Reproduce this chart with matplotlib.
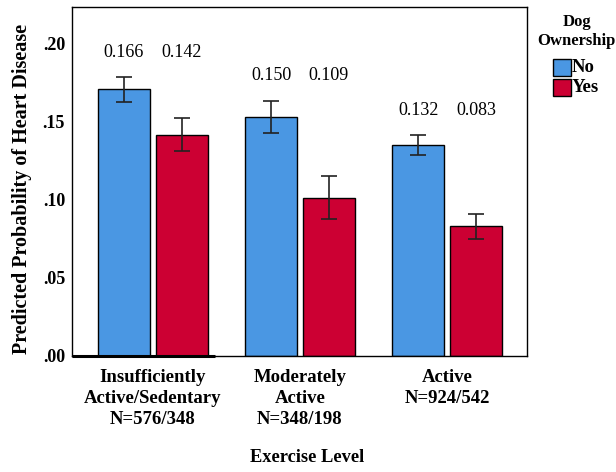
import matplotlib
matplotlib.use("Agg")
import matplotlib.pyplot as plt
from matplotlib.patches import Rectangle
import numpy as np

plt.rcParams['font.family'] = ['Liberation Serif', 'DejaVu Serif']

categories = ["Insufficiently\nActive/Sedentary\nN=576/348",
              "Moderately\nActive\nN=348/198",
              "Active\nN=924/542"]
series_names = ["No", "Yes"]
no_vals = [0.171, 0.153, 0.135]
yes_vals = [0.1417, 0.1015, 0.0831]
no_err_low = [0.1626, 0.1429, 0.1286]
no_err_high = [0.1790, 0.1637, 0.1414]
yes_err_low = [0.1314, 0.0876, 0.0752]
yes_err_high = [0.1523, 0.1151, 0.0908]
no_labels = ["0.166", "0.150", "0.132"]
yes_labels = ["0.142", "0.109", "0.083"]
yticks = [0.0, 0.05, 0.10, 0.15, 0.20]
ytick_labels = [".00", ".05", ".10", ".15", ".20"]

blue = '#4A97E3'
red = '#CC0033'

fig = plt.figure(figsize=(6.16, 4.72), dpi=100)
ax = fig.add_axes([72/616, 1-356/472, (527-72)/616, (356-7)/472])

x = np.arange(len(categories))
w = 0.354
off = 0.197

for vals, lo, hi, col, sgn in [(no_vals, no_err_low, no_err_high, blue, -1),
                               (yes_vals, yes_err_low, yes_err_high, red, 1)]:
    xs = x + sgn*off
    ax.bar(xs, vals, width=w, color=col, edgecolor='black', linewidth=1.0, zorder=2)
    vals_a = np.array(vals)
    yerr = [vals_a - np.array(lo), np.array(hi) - vals_a]
    ax.errorbar(xs, vals, yerr=yerr, fmt='none', ecolor='#222222',
                elinewidth=1.2, capsize=6, capthick=1.2, zorder=3)

# value labels
for i in range(len(categories)):
    top = max(no_err_high[i], yes_err_high[i])
    ly = top + 0.0158
    ax.text(x[i]-off, ly, no_labels[i], ha='center', va='center', fontsize=13)
    ax.text(x[i]+off, ly, yes_labels[i], ha='center', va='center', fontsize=13)

ax.set_xlim(-0.551, 2.544)
ax.set_ylim(0, 0.2237)
ax.set_yticks(yticks)
ax.set_yticklabels(ytick_labels, fontsize=13, fontweight='bold')
ax.set_xticks(x)
ax.set_xticklabels(categories, fontsize=13.5, fontweight='bold', linespacing=1.32)
ax.tick_params(axis='x', length=0, pad=9)
ax.tick_params(axis='y', length=0, pad=5)
for s in ax.spines.values():
    s.set_linewidth(1.0)
    s.set_color('black')

# thicker bottom segment
ax.plot([0, (215-72)/455], [0, 0], transform=ax.transAxes, color='black',
        linewidth=2.2, clip_on=False, zorder=5, solid_capstyle='butt')

fig.text(22/616, 1-189/472, "Predicted Probability of Heart Disease", rotation=90,
         ha='center', va='center', fontsize=14.5, fontweight='bold')
fig.text(307/616, 1-458/472, "Exercise Level", ha='center', va='center',
         fontsize=13.2, fontweight='bold')

# legend
fig.text(577/616, 1-22/472, "Dog", ha='center', va='center', fontsize=12, fontweight='bold')
fig.text(576/616, 1-41/472, "Ownership", ha='center', va='center', fontsize=12, fontweight='bold')
for j, (name, col) in enumerate(zip(series_names, [blue, red])):
    y0 = 59 + j*20
    fig.patches.append(Rectangle((553/616, 1-(y0+17)/472), 18/616, 17/472,
                                 transform=fig.transFigure, facecolor=col,
                                 edgecolor='black', linewidth=1.0))
    fig.text(571.5/616, 1-(y0+8.5)/472, name, ha='left', va='center',
             fontsize=13.5, fontweight='bold')

fig.savefig("out.png", dpi=100)
